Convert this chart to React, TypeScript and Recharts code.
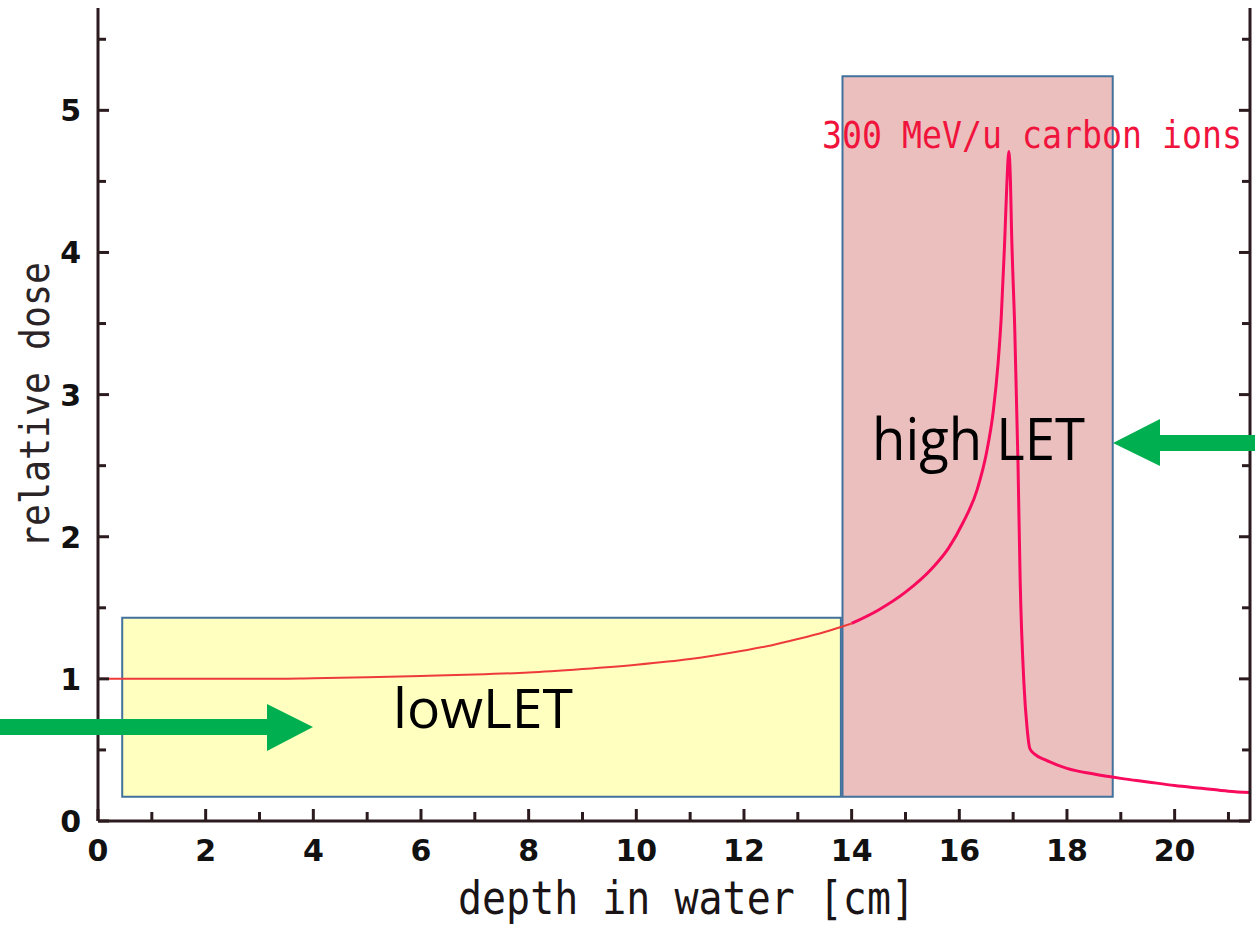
import * as React from "react";
import {
  LineChart,
  Line,
  XAxis,
  YAxis,
  ReferenceArea,
} from "recharts";

// depth-dose curve, 300 MeV/u carbon ions
const lowDepth = [0, 1, 2, 3, 4, 5, 6, 7, 8, 9, 10, 11, 12, 12.5, 13, 13.5, 14];
const lowDose = [1.0, 1.0, 1.0, 1.0, 1.005, 1.012, 1.02, 1.03, 1.045, 1.07, 1.1, 1.14, 1.2, 1.235, 1.28, 1.33, 1.39];

const highDepth = [
  14, 14.5, 15, 15.5, 15.8, 16.07, 16.33, 16.51, 16.63, 16.72, 16.78, 16.84, 16.88, 16.92,
  16.95, 16.97, 17.03, 17.09, 17.13, 17.2, 17.26, 17.31, 17.4, 17.6, 18, 18.5, 19, 19.5,
  20, 20.5, 21, 21.4,
];
const highDose = [
  1.39, 1.485, 1.61, 1.78, 1.92, 2.1, 2.33, 2.6, 2.88, 3.22, 3.55, 4.05, 4.45, 4.71,
  4.5, 4.16, 3.46, 2.52, 1.7, 0.97, 0.65, 0.51, 0.47, 0.43, 0.37, 0.33, 0.3, 0.275,
  0.25, 0.23, 0.21, 0.2,
];

const xTicks = [0, 1, 2, 3, 4, 5, 6, 7, 8, 9, 10, 11, 12, 13, 14, 15, 16, 17, 18, 19, 20, 21];
const xLabelTicks = [0, 2, 4, 6, 8, 10, 12, 14, 16, 18, 20];
const yTicks = [0, 0.5, 1, 1.5, 2, 2.5, 3, 3.5, 4, 4.5, 5, 5.5];
const yLabelTicks = [0, 1, 2, 3, 4, 5];

// regions: [x1, x2, y1, y2]
const lowLetBox = [0.45, 13.8, 0.17, 1.43];
const highLetBox = [13.83, 18.85, 0.17, 5.24];

const lowData = lowDepth.map((d, i) => ({ depth: d, dose: lowDose[i] }));
const highData = highDepth.map((d, i) => ({ depth: d, dose: highDose[i] }));

const W = 1255;
const H = 925;
const LEFT = 98;
const RIGHT = 1250;
const TOP = 8;
const BOTTOM = 821;
const INK = "#2b1b1f";
const TICK_FONT = "'DejaVu Sans', sans-serif";
const MONO = "'DejaVu Sans Mono', 'Liberation Mono', monospace";

function BottomTick(props: any) {
  const { x, payload } = props;
  const major = xLabelTicks.includes(payload.value);
  return (
    <g>
      <line x1={x} x2={x} y1={BOTTOM} y2={BOTTOM - (major ? 12 : 9)} stroke={INK} strokeWidth={3} />
      {major && (
        <text x={x} y={861} textAnchor="middle" fontFamily={TICK_FONT} fontWeight="bold" fontSize={30} fill="#111">
          {payload.value}
        </text>
      )}
    </g>
  );
}

function TopTick(props: any) {
  const { x, payload } = props;
  const major = xLabelTicks.includes(payload.value);
  return <line x1={x} x2={x} y1={TOP} y2={TOP + (major ? 12 : 9)} stroke={INK} strokeWidth={3} />;
}

function LeftTick(props: any) {
  const { y, payload } = props;
  const major = yLabelTicks.includes(payload.value);
  return (
    <g>
      <line x1={LEFT} x2={LEFT + (major ? 11 : 8)} y1={y} y2={y} stroke={INK} strokeWidth={3} />
      {major && (
        <text x={81} y={y + 11} textAnchor="end" fontFamily={TICK_FONT} fontWeight="bold" fontSize={30} fill="#111">
          {payload.value}
        </text>
      )}
    </g>
  );
}

function RightTick(props: any) {
  const { y, payload } = props;
  const major = yLabelTicks.includes(payload.value);
  return <line x1={RIGHT} x2={RIGHT - (major ? 11 : 8)} y1={y} y2={y} stroke={INK} strokeWidth={3} />;
}

export default function App() {
  return (
    <div style={{ position: "absolute", left: 0, top: 0, width: W, height: H, background: "#fff" }}>
      <LineChart width={W} height={H} margin={{ top: TOP, right: 0, bottom: 0, left: 0 }}>
        <XAxis
          xAxisId="bottom"
          dataKey="depth"
          type="number"
          domain={[0, 21.4]}
          ticks={xTicks}
          interval={0}
          height={H - BOTTOM}
          tickLine={false}
          tick={<BottomTick />}
          axisLine={{ stroke: INK, strokeWidth: 3 }}
          allowDataOverflow
        />
        <XAxis
          xAxisId="top"
          orientation="top"
          type="number"
          domain={[0, 21.4]}
          ticks={xTicks}
          interval={0}
          height={0}
          tickLine={false}
          tick={<TopTick />}
          axisLine={{ stroke: INK, strokeWidth: 3 }}
          allowDataOverflow
        />
        <YAxis
          yAxisId="left"
          type="number"
          domain={[0, 5.72]}
          ticks={yTicks}
          interval={0}
          width={LEFT}
          tickLine={false}
          tick={<LeftTick />}
          axisLine={{ stroke: INK, strokeWidth: 3 }}
          allowDataOverflow
        />
        <YAxis
          yAxisId="right"
          orientation="right"
          type="number"
          domain={[0, 5.72]}
          ticks={yTicks}
          interval={0}
          width={W - RIGHT}
          tickLine={false}
          tick={<RightTick />}
          axisLine={{ stroke: INK, strokeWidth: 3 }}
          allowDataOverflow
        />
        <ReferenceArea
          xAxisId="bottom"
          yAxisId="left"
          x1={lowLetBox[0]}
          x2={lowLetBox[1]}
          y1={lowLetBox[2]}
          y2={lowLetBox[3]}
          fill="#ffffc0"
          fillOpacity={1}
          stroke="#41719c"
          strokeWidth={2}
        />
        <ReferenceArea
          xAxisId="bottom"
          yAxisId="left"
          x1={highLetBox[0]}
          x2={highLetBox[1]}
          y1={highLetBox[2]}
          y2={highLetBox[3]}
          fill="#ecbfbf"
          fillOpacity={1}
          stroke="#41719c"
          strokeWidth={2}
        />
        <Line
          xAxisId="bottom"
          yAxisId="left"
          data={lowData}
          dataKey="dose"
          type="monotone"
          stroke="#ee3a3a"
          strokeWidth={2}
          dot={false}
          isAnimationActive={false}
        />
        <Line
          xAxisId="bottom"
          yAxisId="left"
          data={highData}
          dataKey="dose"
          type="monotone"
          stroke="#f80a5c"
          strokeWidth={3}
          dot={false}
          isAnimationActive={false}
        />
      </LineChart>
      <svg
        width={W}
        height={H}
        style={{ position: "absolute", left: 0, top: 0, pointerEvents: "none" }}
      >
        <text
          x={822}
          y={148}
          fontFamily={MONO}
          fontSize={37}
          fill="#f0143c"
          textLength={420}
          lengthAdjust="spacingAndGlyphs"
        >
          300 MeV/u carbon ions
        </text>
        <text
          x={458}
          y={914}
          fontFamily={MONO}
          fontSize={47}
          fill="#1a1416"
          textLength={457}
          lengthAdjust="spacingAndGlyphs"
        >
          depth in water [cm]
        </text>
        <text
          transform="translate(49 405) rotate(-90)"
          textAnchor="middle"
          fontFamily={MONO}
          fontSize={41}
          fill="#2a2426"
          textLength={286}
          lengthAdjust="spacingAndGlyphs"
        >
          relative dose
        </text>
        <text
          x={393}
          y={728}
          fontFamily="'Open Sans', sans-serif"
          fontSize={54}
          fill="#000"
          textLength={180}
          lengthAdjust="spacingAndGlyphs"
        >
          lowLET
        </text>
        <text
          x={872}
          y={460}
          fontFamily="'Open Sans', sans-serif"
          fontSize={58}
          fill="#000"
          textLength={213}
          lengthAdjust="spacingAndGlyphs"
        >
          high LET
        </text>
        <rect x={0} y={719} width={269} height={16} fill="#00b050" />
        <polygon points="267,704 313,727 267,751" fill="#00b050" />
        <rect x={1158} y={435} width={97} height={16} fill="#00b050" />
        <polygon points="1113,443 1160,419 1160,466" fill="#00b050" />
      </svg>
    </div>
  );
}
